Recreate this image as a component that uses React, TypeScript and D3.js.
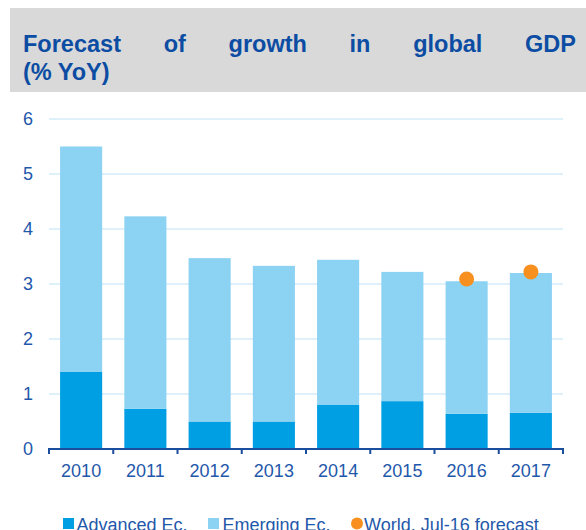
import React, { useEffect, useRef } from "react";
import * as d3 from "d3";

const years = ["2010", "2011", "2012", "2013", "2014", "2015", "2016", "2017"];
const advanced = [1.4, 0.73, 0.5, 0.5, 0.8, 0.87, 0.64, 0.66];
const emerging = [4.1, 3.5, 2.97, 2.83, 2.64, 2.35, 2.41, 2.54];
const worldForecastYears = ["2016", "2017"];
const worldForecast = [3.09, 3.22];
const yTicks = [0, 1, 2, 3, 4, 5, 6];
const titleLine1 = ["Forecast", "of", "growth", "in", "global", "GDP"];
const titleLine2 = "(% YoY)";
const legendLabels = ["Advanced Ec.", "Emerging Ec.", "World. Jul-16 forecast"];

const C_ADV = "#009fe3";
const C_EM = "#8cd2f2";
const C_WORLD = "#f7901e";
const C_TEXT = "#1f58ab";
const C_TITLE = "#0c4da3";
const C_GRID = "#d3edf9";
const C_AXIS = "#1a4d9c";

export default function App() {
  const ref = useRef<SVGSVGElement | null>(null);

  useEffect(() => {
    const svg = d3.select(ref.current);
    svg.selectAll("*").remove();
    const font = "Liberation Sans, Arial, Helvetica, sans-serif";

    // Title box
    svg.append("rect").attr("x", 10).attr("y", 8).attr("width", 576).attr("height", 84).attr("fill", "#d9d9d9");

    const tg = svg.append("g").attr("font-family", font).attr("font-weight", "bold").attr("font-size", 23.5).attr("fill", C_TITLE);
    const left = 23, right = 576;
    const words = tg.selectAll("text.w").data(titleLine1).join("text").attr("class", "w").attr("y", 52).text((d) => d);
    const widths: number[] = [];
    words.each(function () { widths.push((this as SVGTextElement).getComputedTextLength()); });
    const total = d3.sum(widths);
    const gap = (right - left - total) / (titleLine1.length - 1);
    let cx = left;
    words.each(function (_, i) {
      d3.select(this).attr("x", cx);
      cx += widths[i] + gap;
    });
    tg.append("text").attr("x", left).attr("y", 80).text(titleLine2);

    // Scales
    const x = d3.scaleBand<string>().domain(years).range([49, 563]).paddingInner(0.345).paddingOuter(0.1725);
    const y = d3.scaleLinear().domain([0, 6]).range([449, 119]);

    // Grid
    svg.append("g").selectAll("line").data(yTicks.filter((t) => t > 0)).join("line")
      .attr("x1", 49).attr("x2", 563).attr("y1", (d) => y(d)).attr("y2", (d) => y(d))
      .attr("stroke", C_GRID).attr("stroke-width", 1.5);

    // Bars
    const stackData = years.map((yr, i) => ({ year: yr, adv: advanced[i], em: emerging[i] }));
    const stack = d3.stack<any>().keys(["adv", "em"])(stackData);
    const colors = [C_ADV, C_EM];
    svg.append("g").selectAll("g").data(stack).join("g").attr("fill", (_, i) => colors[i])
      .selectAll("rect").data((d) => d).join("rect")
      .attr("x", (d: any) => x(d.data.year)!)
      .attr("width", x.bandwidth())
      .attr("y", (d: any) => y(d[1]))
      .attr("height", (d: any) => y(d[0]) - y(d[1]));

    // Axis
    const ax = svg.append("g").attr("transform", `translate(0,${y(0)})`);
    ax.append("line").attr("x1", 48).attr("x2", 564).attr("stroke", C_AXIS).attr("stroke-width", 2);
    const tickXs = d3.range(years.length + 1).map((i) => 49 + i * x.step());
    ax.selectAll("line.t").data(tickXs).join("line").attr("class", "t")
      .attr("x1", (d) => d).attr("x2", (d) => d).attr("y1", 0).attr("y2", 5)
      .attr("stroke", C_AXIS).attr("stroke-width", 2);
    ax.selectAll("text").data(years).join("text")
      .attr("x", (d) => x(d)! + x.bandwidth() / 2).attr("y", 28)
      .attr("text-anchor", "middle").attr("font-family", font).attr("font-size", 18).attr("fill", C_TEXT)
      .text((d) => d);

    // Y labels
    svg.append("g").selectAll("text").data(yTicks).join("text")
      .attr("x", 33).attr("y", (d) => y(d) + 6)
      .attr("text-anchor", "end").attr("font-family", font).attr("font-size", 18).attr("fill", C_TEXT)
      .text((d) => d);

    // World dots
    svg.append("g").selectAll("circle").data(worldForecastYears).join("circle")
      .attr("cx", (d) => x(d)! + x.bandwidth() / 2)
      .attr("cy", (_, i) => y(worldForecast[i]))
      .attr("r", 7.5).attr("fill", C_WORLD);

    // Legend
    const lg = svg.append("g").attr("font-family", font).attr("font-size", 18).attr("fill", C_TEXT);
    lg.append("rect").attr("x", 63).attr("y", 518).attr("width", 11).attr("height", 11).attr("fill", C_ADV);
    lg.append("text").attr("x", 76.5).attr("y", 531).text(legendLabels[0]);
    lg.append("rect").attr("x", 208).attr("y", 518).attr("width", 11).attr("height", 11).attr("fill", C_EM);
    lg.append("text").attr("x", 222.5).attr("y", 531).text(legendLabels[1]);
    lg.append("circle").attr("cx", 357).attr("cy", 523.5).attr("r", 6).attr("fill", C_WORLD);
    lg.append("text").attr("x", 364).attr("y", 531).text(legendLabels[2]);
  }, []);

  return (
    <svg ref={ref} width={586} height={530} style={{ position: "absolute", left: 0, top: 0, background: "#fff" }} />
  );
}
